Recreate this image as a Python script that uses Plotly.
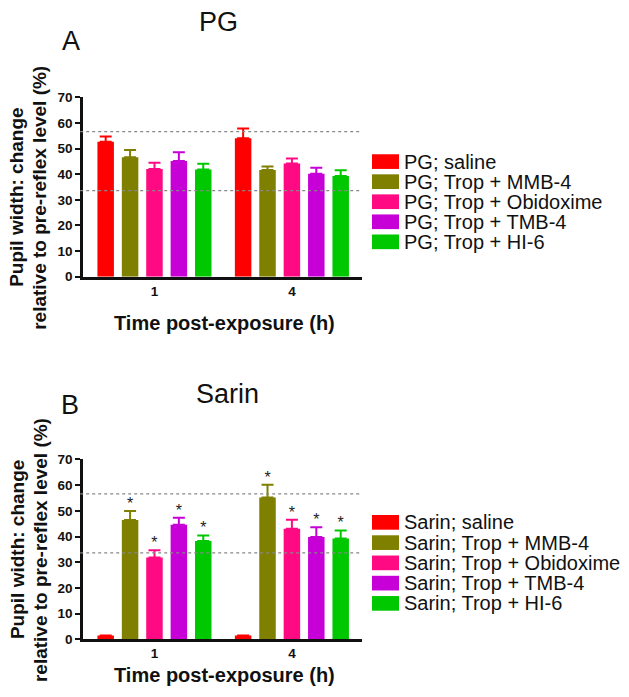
import plotly.graph_objects as go

# ---------------- data ----------------
time_labels = ["1", "4"]
series_suffix = ["saline", "Trop + MMB-4", "Trop + Obidoxime", "Trop + TMB-4", "Trop + HI-6"]
colors = ["#FF0000", "#7F7F00", "#FF0A82", "#C800D8", "#00C800"]

pg_mean = [[52.7, 54.0], [46.6, 41.6], [42.0, 44.2], [45.2, 40.2], [41.8, 39.3]]
pg_err = [[2.0, 3.8], [2.8, 1.4], [2.5, 1.9], [3.4, 2.3], [2.3, 2.2]]

sarin_mean = [[1.5, 1.5], [46.4, 55.2], [31.8, 43.0], [44.6, 39.8], [38.3, 39.2]]
sarin_err = [[0.0, 0.0], [3.5, 4.9], [2.9, 3.5], [2.7, 3.8], [2.1, 3.1]]
sarin_sig = [[False, False], [True, True], [True, True], [True, True], [True, True]]
pg_sig = [[False, False]] * 5

ref_lines = [56.6, 33.6]
y_ticks = [0, 10, 20, 30, 40, 50, 60, 70]
ytitle_lines = ["Pupil width: change", "relative to pre-reflex level (%)"]
xtitle = "Time post-exposure (h)"

# ---------------- layout constants ----------------
W, H = 629, 697
FONT = "Liberation Sans, Arial, sans-serif"
SLOT = 0.1775
BAR_W = 0.12
STAR_OFF = 2.4


def px_x(p):
    return p / W


def px_y(p):
    return 1 - p / H


fig = go.Figure()

panels = [
    dict(prefix="PG", mean=pg_mean, err=pg_err, sig=pg_sig, xa="x", ya="y",
         title="PG", title_pos=(218, 15), letter="A", letter_pos=(71, 34.5),
         ytitle_y=195, xtitle_y=323, leg_y0=158, leg_step=20.5),
    dict(prefix="Sarin", mean=sarin_mean, err=sarin_err, sig=sarin_sig, xa="x2", ya="y2",
         title="Sarin", title_pos=(227, 396), letter="B", letter_pos=(70, 407),
         ytitle_y=555, xtitle_y=683, leg_y0=526.7, leg_step=20.7),
]

annotations = []
shapes = []

for pi, P in enumerate(panels):
    n = len(series_suffix)
    for i in range(n):
        xs = [g + (i - (n - 1) / 2) * SLOT for g in range(len(time_labels))]
        fig.add_trace(go.Bar(
            x=xs, y=P["mean"][i], width=BAR_W,
            marker=dict(color=colors[i], line=dict(width=0)),
            error_y=dict(type="data", symmetric=False, array=P["err"][i],
                         arrayminus=[0] * len(time_labels), color=colors[i],
                         thickness=2, width=6, visible=True),
            name=f"{P['prefix']}; {series_suffix[i]}",
            xaxis=P["xa"], yaxis=P["ya"], showlegend=False,
        ))
        sx, sy = [], []
        for g in range(len(time_labels)):
            if P["sig"][i][g]:
                sx.append(xs[g])
                sy.append(P["mean"][i][g] + P["err"][i][g] + STAR_OFF)
        if sx:
            fig.add_trace(go.Scatter(
                x=sx, y=sy, mode="text", text=["*"] * len(sx),
                textposition="middle center",
                textfont=dict(family=FONT, size=16, color="#222"),
                xaxis=P["xa"], yaxis=P["ya"], showlegend=False, hoverinfo="skip",
            ))
    # reference lines
    for r in ref_lines:
        shapes.append(dict(type="line", xref=f"{P['xa']} domain", yref=P["ya"],
                           x0=-0.01, x1=1.0, y0=r, y1=r,
                           line=dict(color="#888888", width=1.2, dash="dot")))
    # titles
    annotations.append(dict(text=P["title"], x=px_x(P["title_pos"][0]), y=px_y(P["title_pos"][1]),
                            xref="paper", yref="paper", showarrow=False, xanchor="center", yanchor="middle",
                            font=dict(family=FONT, size=27, color="#111")))
    annotations.append(dict(text=P["letter"], x=px_x(P["letter_pos"][0]), y=px_y(P["letter_pos"][1]),
                            xref="paper", yref="paper", showarrow=False, xanchor="center", yanchor="middle",
                            font=dict(family=FONT, size=27, color="#111")))
    for li, line in enumerate(ytitle_lines):
        annotations.append(dict(text=f"<b>{line}</b>",
                                x=px_x(17 + 23 * li), y=px_y(P["ytitle_y"]), xref="paper", yref="paper",
                                showarrow=False, textangle=-90, xanchor="center", yanchor="middle",
                                font=dict(family=FONT, size=19, color="#111")))
    annotations.append(dict(text=f"<b>{xtitle}</b>",
                            x=px_x(224.5), y=px_y(P["xtitle_y"]), xref="paper", yref="paper",
                            showarrow=False, xanchor="center", yanchor="middle",
                            font=dict(family=FONT, size=20, color="#111")))
    # custom legend
    for i in range(n):
        yc = P["leg_y0"] + i * P["leg_step"]
        shapes.append(dict(type="rect", xref="paper", yref="paper",
                           x0=px_x(372), x1=px_x(399), y0=px_y(yc + 7.5), y1=px_y(yc - 7.5),
                           fillcolor=colors[i], line=dict(width=0)))
        annotations.append(dict(text=f"{P['prefix']}; {series_suffix[i]}",
                                x=px_x(402), y=px_y(yc), xref="paper", yref="paper",
                                showarrow=False, xanchor="left", yanchor="middle",
                                font=dict(family=FONT, size=20, color="#111")))

x_dom = [px_x(83), px_x(362)]
common_x = dict(range=[-0.52, 1.51], tickmode="array", tickvals=list(range(len(time_labels))),
                ticktext=[f"<b>{t}</b>" for t in time_labels], showline=True, linecolor="#111",
                linewidth=2.5, ticks="", showgrid=False, zeroline=False, ticklabelstandoff=0,
                tickfont=dict(family=FONT, size=13.5, color="#111"), domain=x_dom, fixedrange=True)
common_y = dict(range=[0, 70], tickmode="array", tickvals=y_ticks,
                ticktext=[f"<b>{v}</b>" for v in y_ticks], showline=True, linecolor="#111",
                linewidth=2.5, ticks="outside", ticklen=5, tickwidth=2, tickcolor="#111",
                showgrid=False, zeroline=False, ticklabelstandoff=0, fixedrange=True,
                tickfont=dict(family=FONT, size=13.5, color="#111"))

fig.update_layout(
    width=W, height=H, autosize=False,
    margin=dict(l=0, r=0, t=0, b=0),
    paper_bgcolor="white", plot_bgcolor="white",
    barmode="overlay",
    xaxis=dict(common_x, anchor="y"),
    yaxis=dict(common_y, domain=[px_y(275.7), px_y(92.3)], anchor="x"),
    xaxis2=dict(common_x, anchor="y2"),
    yaxis2=dict(common_y, domain=[px_y(646.3), px_y(462.3)], anchor="x2"),
    annotations=annotations,
    shapes=shapes,
    showlegend=False,
    hovermode=False,
)

fig.write_html("out.html", config={"displayModeBar": False},
               post_script="document.body.style.margin='0';")
